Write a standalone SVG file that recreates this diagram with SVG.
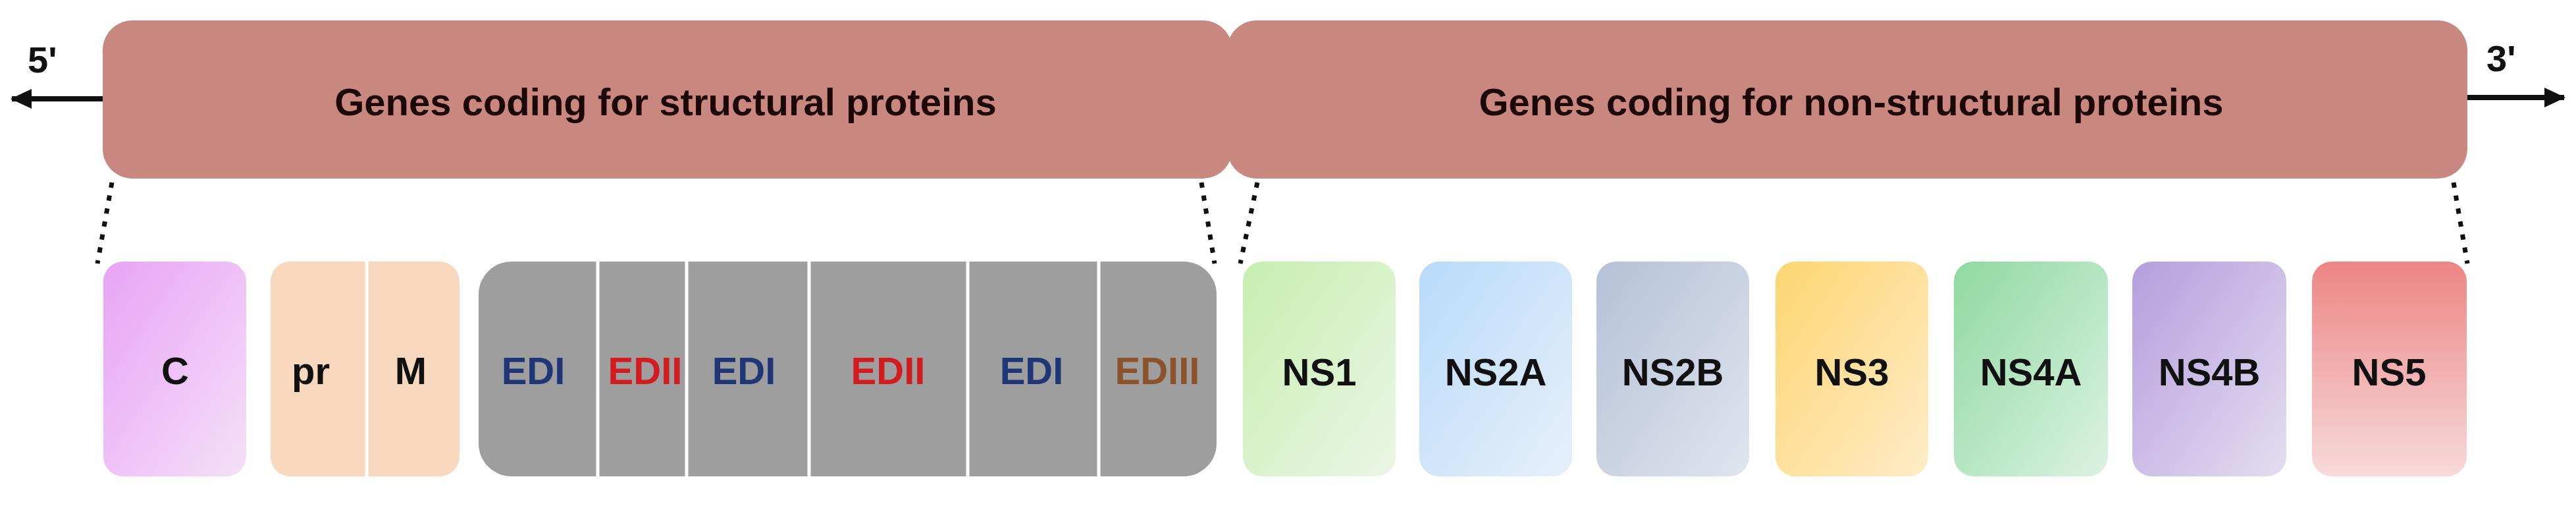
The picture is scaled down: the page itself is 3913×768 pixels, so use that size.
<svg xmlns="http://www.w3.org/2000/svg" width="3913" height="768" viewBox="0 0 3913 768">
<style>
.bar{fill:#c8877f}
.bt{font-family:"Liberation Sans",Arial,sans-serif;font-weight:bold;font-size:58px;fill:#1c0606;text-anchor:middle}
.lbl{font-family:"Liberation Sans",Arial,sans-serif;font-weight:bold;font-size:58px;fill:#111;text-anchor:middle}
.end{font-family:"Liberation Sans",Arial,sans-serif;font-weight:bold;font-size:56px;fill:#111}
.b{fill:#1f3777}.r{fill:#d21c22}.o{fill:#8c522c}
.div{stroke:#ffffff;stroke-width:5}
.dot{stroke:#111;stroke-width:7;stroke-dasharray:8 12;fill:none}
.arr{stroke:#111;stroke-width:8;fill:none}
</style>
<defs>
<marker id="ah" markerUnits="userSpaceOnUse" markerWidth="34" markerHeight="30" refX="30" refY="15" orient="auto">
<path d="M0,0 L32,15 L0,30 Z" fill="#111"/>
</marker>
<linearGradient id="gC" x1="0" y1="0" x2="1" y2="1"><stop offset="0" stop-color="#e8a3f6"/><stop offset="1" stop-color="#f5e0f8"/></linearGradient>
<linearGradient id="g1" x1="0" y1="0" x2="1" y2="1"><stop offset="0" stop-color="#c6eeb0"/><stop offset="1" stop-color="#ebf6e5"/></linearGradient>
<linearGradient id="g2a" x1="0" y1="0" x2="1" y2="1"><stop offset="0" stop-color="#b9daf9"/><stop offset="1" stop-color="#e6f0fb"/></linearGradient>
<linearGradient id="g2b" x1="0" y1="0" x2="1" y2="1"><stop offset="0" stop-color="#b5c1d8"/><stop offset="1" stop-color="#e0e5ee"/></linearGradient>
<linearGradient id="g3" x1="0" y1="0" x2="1" y2="1"><stop offset="0" stop-color="#fdd571"/><stop offset="1" stop-color="#feecc8"/></linearGradient>
<linearGradient id="g4a" x1="0" y1="0" x2="1" y2="1"><stop offset="0" stop-color="#8fd9a0"/><stop offset="1" stop-color="#dcf2e2"/></linearGradient>
<linearGradient id="g4b" x1="0" y1="0" x2="1" y2="1"><stop offset="0" stop-color="#b49fdd"/><stop offset="1" stop-color="#e4ddf1"/></linearGradient>
<linearGradient id="g5" x1="0" y1="0" x2="0" y2="1"><stop offset="0" stop-color="#ee8585"/><stop offset="1" stop-color="#f7dada"/></linearGradient>
</defs>
<rect width="3913" height="768" fill="#ffffff"/>

<g id="structural">
<rect class="bar" x="156" y="31" width="1716" height="240" rx="45"/>
<text class="bt" x="1011" y="175">Genes coding for structural proteins</text>
</g>
<g id="nonstructural">
<rect class="bar" x="1864" y="31" width="1884" height="240" rx="45"/>
<text class="bt" x="2812" y="175">Genes coding for non-structural proteins</text>
</g>

<g id="end5"><text class="end" x="42" y="110">5'</text></g>
<g id="end3"><text class="end" x="3777" y="108">3'</text></g>

<g id="connectors">
<line class="arr" x1="156" y1="150" x2="18" y2="150" marker-end="url(#ah)"/>
<line class="arr" x1="3748" y1="148" x2="3895" y2="148" marker-end="url(#ah)"/>
<line class="dot" x1="170" y1="277" x2="148" y2="400"/>
<line class="dot" x1="1825" y1="277" x2="1845" y2="400"/>
<line class="dot" x1="1910" y1="277" x2="1884" y2="400"/>
<line class="dot" x1="3727" y1="277" x2="3748" y2="400"/>
</g>

<g id="C">
<rect x="157" y="397" width="217" height="326" rx="30" fill="url(#gC)"/>
<text class="lbl" x="266" y="583">C</text>
</g>
<g id="prM">
<rect x="411" y="397" width="287" height="326" rx="30" fill="#f8d8be"/>
<line class="div" x1="557" y1="397" x2="557" y2="723"/>
<text class="lbl" x="472" y="583">pr</text>
<text class="lbl" x="624" y="583">M</text>
</g>
<g id="E">
<rect x="727" y="397" width="1121" height="326" rx="50" fill="#9e9e9e"/>
<line class="div" x1="908" y1="397" x2="908" y2="723"/>
<line class="div" x1="1043" y1="397" x2="1043" y2="723"/>
<line class="div" x1="1229" y1="397" x2="1229" y2="723"/>
<line class="div" x1="1470" y1="397" x2="1470" y2="723"/>
<line class="div" x1="1669" y1="397" x2="1669" y2="723"/>
<text class="lbl b" x="810" y="583">EDI</text>
<text class="lbl r" x="980" y="583">EDII</text>
<text class="lbl b" x="1130" y="583">EDI</text>
<text class="lbl r" x="1349" y="583">EDII</text>
<text class="lbl b" x="1567" y="583">EDI</text>
<text class="lbl o" x="1758" y="583">EDIII</text>
</g>
<g id="NS1"><rect x="1888" y="397" width="232" height="326" rx="30" fill="url(#g1)"/><text class="lbl" x="2004" y="585">NS1</text></g>
<g id="NS2A"><rect x="2156" y="397" width="232" height="326" rx="30" fill="url(#g2a)"/><text class="lbl" x="2272" y="585">NS2A</text></g>
<g id="NS2B"><rect x="2425" y="397" width="232" height="326" rx="30" fill="url(#g2b)"/><text class="lbl" x="2541" y="585">NS2B</text></g>
<g id="NS3"><rect x="2697" y="397" width="232" height="326" rx="30" fill="url(#g3)"/><text class="lbl" x="2813" y="585">NS3</text></g>
<g id="NS4A"><rect x="2968" y="397" width="234" height="326" rx="30" fill="url(#g4a)"/><text class="lbl" x="3085" y="585">NS4A</text></g>
<g id="NS4B"><rect x="3239" y="397" width="234" height="326" rx="30" fill="url(#g4b)"/><text class="lbl" x="3356" y="585">NS4B</text></g>
<g id="NS5"><rect x="3512" y="397" width="235" height="326" rx="30" fill="url(#g5)"/><text class="lbl" x="3629" y="585">NS5</text></g>
</svg>
